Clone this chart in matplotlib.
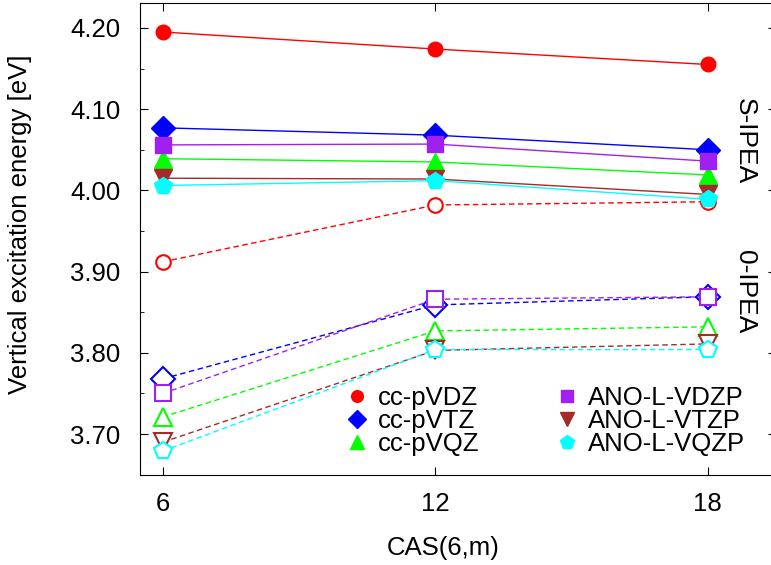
import matplotlib
matplotlib.use('Agg')
import matplotlib.pyplot as plt

plt.rcParams['font.family'] = ['Liberation Sans', 'DejaVu Sans']

cas = [6, 12, 18]

labels = ['cc-pVDZ', 'cc-pVTZ', 'cc-pVQZ', 'ANO-L-VDZP', 'ANO-L-VTZP', 'ANO-L-VQZP']
colors = ['#ff0000', '#0000ff', '#00ff00', '#a020f0', '#a52a2a', '#00ffff']
markers = ['o', 'D', '^', 's', 'v', 'p']
msizes = [10.5, 12, 13, 11, 13, 13]

# S-IPEA shift
s_ipea = [
    [4.195, 4.174, 4.155],
    [4.077, 4.068, 4.050],
    [4.039, 4.035, 4.019],
    [4.056, 4.057, 4.036],
    [4.015, 4.014, 3.995],
    [4.006, 4.012, 3.989],
]
# zero IPEA shift
zero_ipea = [
    [3.912, 3.982, 3.986],
    [3.768, 3.859, 3.869],
    [3.721, 3.827, 3.832],
    [3.750, 3.866, 3.869],
    [3.690, 3.803, 3.811],
    [3.679, 3.804, 3.804],
]

W, H = 771, 565
fig = plt.figure(figsize=(W / 100, H / 100), dpi=100)
ax = fig.add_axes([140 / W, 90 / H, 636 / W, 472 / H])

handles = []
for i in range(6):
    ax.plot(cas, s_ipea[i], '-', color=colors[i], lw=1, marker=markers[i],
            ms=msizes[i], mec=colors[i], mfc=colors[i])
    ax.plot(cas, zero_ipea[i], '--', color=colors[i], lw=1, dashes=(4, 2.5),
            marker=markers[i], ms=msizes[i], mec=colors[i], mfc='white', mew=1.5)
    handles.append(plt.Line2D([], [], ls='none', marker=markers[i], ms=msizes[i] * 0.8,
                              color=colors[i], label=labels[i]))

ax.set_xlim(5.5, 19.5)
ax.set_ylim(3.6496, 4.2307)
ax.set_xticks(cas)
ax.set_yticks([3.70, 3.80, 3.90, 4.00, 4.10, 4.20])
ax.set_yticklabels(['3.70', '3.80', '3.90', '4.00', '4.10', '4.20'])
ax.set_yticks([3.75, 3.85, 3.95, 4.05, 4.15], minor=True)
ax.tick_params(direction='in', which='both', top=True, right=True, labelsize=18.5, pad=14)
ax.tick_params(which='major', length=5.5)
ax.tick_params(which='minor', length=3)
ax.tick_params(axis='x', pad=12)

fs = 18.5
fig.text(443 / W, 1 - 548 / H, 'CAS(6,m)', ha='center', va='center', fontsize=fs)
fig.text(20 / W, 1 - 224 / H, 'Vertical excitation energy [eV]', rotation=90,
         ha='center', va='center', fontsize=fs)

fig.text(745 / W, 1 - 141 / H, 'S-IPEA', rotation=-90, ha='center', va='center', fontsize=19)
fig.text(745 / W, 1 - 292 / H, '0-IPEA', rotation=-90, ha='center', va='center', fontsize=19)

ax.legend(handles=handles, ncol=2, frameon=False, fontsize=fs, loc='center left',
          bbox_to_anchor=(344 / W, 1 - 421 / H), bbox_transform=fig.transFigure,
          borderpad=0, borderaxespad=0, handletextpad=0.32, columnspacing=2.9,
          labelspacing=-0.05, handlelength=1.0)

fig.savefig('out.png', dpi=100)
